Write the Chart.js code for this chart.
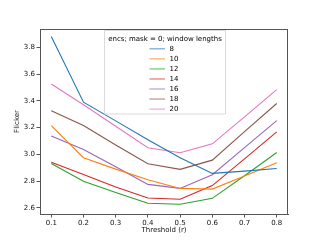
<!DOCTYPE html>
<html>
<head>
<meta charset="utf-8">
<script src="https://cdn.jsdelivr.net/npm/chart.js@4"></script>
<style>
  html, body { margin: 0; padding: 0; background: #fff; }
  #wrap { width: 320px; height: 240px; }
</style>
</head>
<body>
<div id="wrap"><canvas id="myChart" width="320" height="240"></canvas></div>
<script>
// data
var thresholds = [0.1, 0.2, 0.3, 0.4, 0.5, 0.6, 0.7, 0.8];
var windowLengths = ["8", "10", "12", "14", "16", "18", "20"];
var w8  = [3.88, 3.39, 3.25, 3.11, 2.975, 2.858, 2.875, 2.895];
var w10 = [3.215, 2.975, 2.89, 2.811, 2.746, 2.741, 2.838, 2.937];
var w12 = [2.932, 2.80, 2.716, 2.635, 2.628, 2.672, 2.84, 3.014];
var w14 = [2.942, 2.85, 2.757, 2.675, 2.665, 2.767, 2.967, 3.168];
var w16 = [3.138, 3.036, 2.908, 2.776, 2.746, 2.848, 3.05, 3.252];
var w18 = [3.326, 3.215, 3.07, 2.93, 2.888, 2.957, 3.17, 3.38];
var w20 = [3.525, 3.37, 3.21, 3.049, 3.012, 3.079, 3.28, 3.483];
var yTicks = [2.6, 2.8, 3.0, 3.2, 3.4, 3.6, 3.8];

var colors = ['#1f77b4', '#ff7f0e', '#2ca02c', '#d62728', '#9467bd', '#8c564b', '#e377c2'];
var allSeries = [w8, w10, w12, w14, w16, w18, w20];
var FONT = "'DejaVu Sans', sans-serif";
var AXIS = '#555';

var datasets = allSeries.map(function (vals, i) {
  return {
    label: windowLengths[i],
    data: vals.map(function (v, j) { return {x: thresholds[j], y: v}; }),
    borderColor: colors[i],
    backgroundColor: colors[i],
    borderWidth: 1.1,
    pointRadius: 0,
    tension: 0,
    fill: false
  };
});

// matplotlib style frame + legend box
var framePlugin = {
  id: 'frame',
  afterDraw: function (chart) {
    var ctx = chart.ctx;
    var a = chart.chartArea;
    ctx.save();
    ctx.strokeStyle = AXIS;
    ctx.lineWidth = 1;
    ctx.strokeRect(Math.round(a.left) + 0.5, Math.round(a.top) + 0.5,
                   Math.round(a.right - a.left) - 1, Math.round(a.bottom - a.top));

    // legend
    var bx = 104.5, by = 30.5, bw = 121, bh = 83.5;
    ctx.fillStyle = 'rgba(255,255,255,0.85)';
    ctx.strokeStyle = '#d9d9d9';
    ctx.lineWidth = 1;
    ctx.beginPath();
    ctx.rect(bx, by, bw, bh);
    ctx.fill();
    ctx.stroke();

    ctx.font = '7px ' + FONT;
    ctx.fillStyle = '#000';
    ctx.textBaseline = 'middle';
    ctx.textAlign = 'center';
    ctx.fillText('encs; mask = 0; window lengths', bx + bw / 2, 39.5);
    ctx.textAlign = 'left';
    chart.data.datasets.forEach(function (ds, i) {
      var y = 48.8 + i * 10.05;
      ctx.strokeStyle = ds.borderColor;
      ctx.globalAlpha = 0.6;
      ctx.lineWidth = 1.3;
      ctx.beginPath();
      ctx.moveTo(149.5, y);
      ctx.lineTo(165, y);
      ctx.stroke();
      ctx.globalAlpha = 1;
      ctx.fillText(ds.label, 169.5, y);
    });
    ctx.restore();
  }
};

var ctx = document.getElementById("myChart");
var myChart = new Chart(ctx, {
  type: 'line',
  data: { datasets: datasets },
  options: {
    responsive: false,
    animation: false,
    devicePixelRatio: 1,
    layout: { padding: { left: 0, top: 29, right: 32, bottom: 0 } },
    plugins: {
      legend: { display: false },
      tooltip: { enabled: false }
    },
    scales: {
      x: {
        type: 'linear',
        min: 0.065,
        max: 0.835,
        afterBuildTicks: function (scale) {
          scale.ticks = thresholds.map(function (v) { return {value: v}; });
        },
        afterFit: function (scale) { scale.height = 26; },
        grid: { drawOnChartArea: false, drawTicks: true, tickLength: 3.5, color: AXIS },
        border: { display: true, color: AXIS, width: 1 },
        ticks: {
          color: '#111', padding: 1, maxRotation: 0, autoSkip: false,
          font: { family: FONT, size: 7 },
          callback: function (v) { return v.toFixed(1); }
        },
        title: {
          display: true, text: 'Threshold (r)', color: '#111',
          font: { family: FONT, size: 7, lineHeight: 1.2 },
          padding: { top: 0, bottom: 5.5 }
        }
      },
      y: {
        type: 'linear',
        min: 2.555,
        max: 3.936,
        afterBuildTicks: function (scale) {
          scale.ticks = yTicks.map(function (v) { return {value: v}; });
        },
        afterFit: function (scale) { scale.width = 40; },
        grid: { drawOnChartArea: false, drawTicks: true, tickLength: 3.5, color: AXIS },
        border: { display: true, color: AXIS, width: 1 },
        ticks: {
          color: '#111', padding: 1.5, autoSkip: false,
          font: { family: FONT, size: 7 },
          callback: function (v) { return v.toFixed(1); }
        },
        title: {
          display: true, text: 'Flicker', color: '#111',
          font: { family: FONT, size: 7, lineHeight: 1.2 },
          padding: { top: 13, bottom: 0 }
        }
      }
    }
  },
  plugins: [framePlugin]
});
</script>
</body>
</html>
